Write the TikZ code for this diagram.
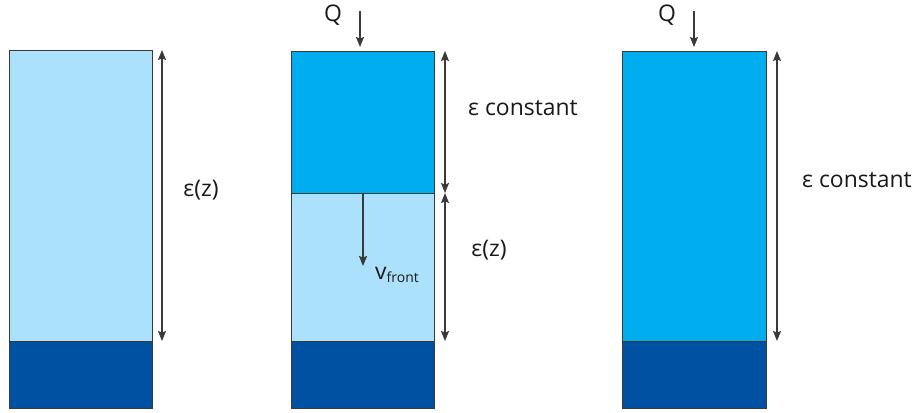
\documentclass[tikz,border=0pt]{standalone}
\usepackage{fontspec}
\setmainfont{Open Sans}
\usetikzlibrary{arrows.meta,positioning}
\definecolor{bedLight}{HTML}{ABE1FA}
\definecolor{bedMid}{HTML}{00AEEF}
\definecolor{bedDark}{HTML}{0051A2}
\definecolor{bedLine}{HTML}{3A3A3A}
\tikzset{
  % Column segment. Width and height come with the node.
  bed/seg/.style={
    draw=bedLine, line width=0.9pt, inner sep=0pt, outer sep=0pt,
    anchor=north west, minimum width=143bp
  },
  % Dimension arrows and flow arrows.
  bed/dim/.style={
    {Stealth[length=10bp,width=8bp,inset=1.5bp]}-{Stealth[length=10bp,width=8bp,inset=1.5bp]},
    line width=1.1pt, draw=bedLine
  },
  bed/flow/.style={
    -{Stealth[length=10bp,width=8bp,inset=1.5bp]}, line width=1.1pt, draw=bedLine
  },
  bed/label/.style={
    font=\fontsize{23}{27}\selectfont, text=black!90, inner sep=0pt
  },
}

\begin{document}
\begin{tikzpicture}[x=1bp, y=-1bp]
\useasboundingbox (0,0) rectangle (918,412);

% left column
\begin{scope}
  \node[bed/seg, fill=bedLight, minimum height=291bp] (a1) at (9,50) {};
  \node[bed/seg, fill=bedDark, minimum height=67bp] (a2) at (9,341) {};
  \coordinate (ad0) at (162,50);
  \coordinate (ad1) at (162,341);
  \draw[bed/dim] (ad0) -- (ad1);
  \node[bed/label] (ae) at (201,190) {ε(z)};
\end{scope}

% middle column
\begin{scope}
  \node[bed/seg, fill=bedMid, minimum height=142bp] (b1) at (291,51) {};
  \node[bed/seg, fill=bedLight, minimum height=148bp] (b2) at (291,193) {};
  \node[bed/seg, fill=bedDark, minimum height=67bp] (b3) at (291,341) {};
  \coordinate (bq) at (360,11);
  \coordinate (bq1) at (360,47);
  \draw[bed/flow] (bq) -- (bq1);
  \node[bed/label] (bQ) at (333,15) {Q};
  \coordinate (bd0) at (445,51);
  \coordinate (bd1) at (445,193);
  \coordinate (bd2) at (445,341);
  \draw[bed/dim] (bd0) -- (bd1);
  \draw[bed/dim] (bd1) -- (bd2);
  \coordinate (bv0) at (363,193);
  \coordinate (bv1) at (363,266);
  \draw[bed/flow] (bv0) -- (bv1);
  \node[bed/label, anchor=base west] (bv) at (375,279) {v\textsubscript{\fontsize{14}{16}\selectfont front}};
  \node[bed/label] (be1) at (523,108) {ε constant};
  \node[bed/label] (be2) at (489,250) {ε(z)};
\end{scope}

% right column
\begin{scope}
  \node[bed/seg, fill=bedMid, minimum height=290bp, minimum width=144bp] (c1) at (622,51) {};
  \node[bed/seg, fill=bedDark, minimum height=67bp, minimum width=144bp] (c2) at (622,341) {};
  \coordinate (cq) at (694,11);
  \coordinate (cq1) at (694,47);
  \draw[bed/flow] (cq) -- (cq1);
  \node[bed/label] (cQ) at (667,15) {Q};
  \coordinate (cd0) at (777,51);
  \coordinate (cd1) at (777,341);
  \draw[bed/dim] (cd0) -- (cd1);
  \node[bed/label] (ce) at (857,180) {ε constant};
\end{scope}
\end{tikzpicture}
\end{document}
